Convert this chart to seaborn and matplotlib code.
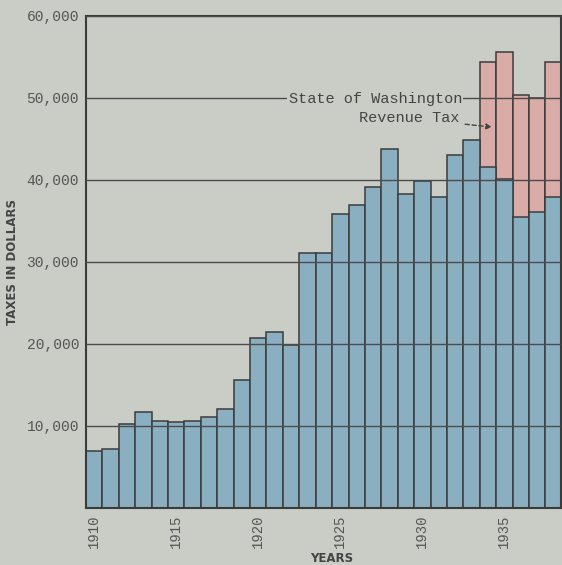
#!/usr/bin/env python3

import matplotlib
matplotlib.use("Agg")
import pandas as pd
import seaborn as sns
from matplotlib import pyplot as plt

years = list(range(1910, 1939))
local_tax = [6900, 7200, 10300, 11750, 10550, 10450, 10550, 11050, 12100, 15550,
             20700, 21500, 19900, 31050, 31150, 35850, 37000, 39100, 43800, 38300,
             39900, 37900, 43000, 44900, 41550, 40100, 35450, 36050, 37900]
state_tax_years = [1934, 1935, 1936, 1937, 1938]
state_tax = [12850, 15550, 14900, 14000, 16500]
tick_years = [1910, 1915, 1920, 1925, 1930, 1935]
y_ticks = [10000, 20000, 30000, 40000, 50000, 60000]
y_labels = ["10,000", "20,000", "30,000", "40,000", "50,000", "60,000"]

BG = "#c9cdc5"
BLUE = "#8aafc1"
RED = "#d9aca7"
INK = "#3a3c3c"
MONO = "Liberation Mono"


def main():
    data = pd.DataFrame({"year": years, "local": local_tax})
    state = pd.DataFrame({"year": state_tax_years, "state": state_tax})
    data = data.merge(state, on="year", how="left").fillna({"state": 0})
    data["total"] = data["local"] + data["state"]
    stacked = data[data["state"] > 0]

    sns.set_style("white")
    fig = plt.figure(figsize=(5.62, 5.65), dpi=100, facecolor=BG)
    ax = fig.add_axes([86 / 562, 1 - 508 / 565, 475 / 562, 492 / 565])
    ax.set_facecolor(BG)

    bar_kw = dict(order=years, width=1.0, edgecolor=INK, linewidth=1.1,
                  errorbar=None, saturation=1)
    sns.barplot(stacked, x="year", y="total", color=RED, ax=ax, **bar_kw)
    sns.barplot(data, x="year", y="local", color=BLUE, ax=ax, **bar_kw)

    ax.set_xlim(-0.5, 28.45)
    ax.set_ylim(0, 60000)
    ax.set_yticks(y_ticks, y_labels, family=MONO, fontsize=10.5, color="#555")
    ax.set_xticks([years.index(y) for y in tick_years], [str(y) for y in tick_years],
                  rotation=90, family=MONO, fontsize=10, color="#555")
    ax.tick_params(axis="both", length=3, width=1.2, color=INK, pad=2)
    ax.yaxis.grid(True, color="#4a4c4c", linewidth=1.0)
    ax.set_axisbelow(False)
    for s in ax.spines.values():
        s.set_visible(True)
        s.set_color(INK)
        s.set_linewidth(1.5)
    ax.set_xlabel("")
    ax.set_ylabel("")

    ax.text(22.42, 49900, "State of Washington", ha="right", va="center",
            family=MONO, fontsize=11, color="#444",
            bbox=dict(facecolor=BG, edgecolor="none", pad=1))
    ax.annotate("Revenue Tax", xy=(24.24, 46450), xytext=(22.24, 47550),
                ha="right", va="center", family=MONO, fontsize=11, color="#444",
                arrowprops=dict(arrowstyle="-|>", linestyle=(0, (3, 2)), color="#444",
                                lw=1, shrinkA=2, shrinkB=0, mutation_scale=8))

    fig.text(13 / 562, 1 - 262 / 565, "TAXES IN DOLLARS", rotation=90, ha="center", va="center",
             fontsize=8.5, fontweight="bold", color="#444")
    fig.text(332 / 562, 1 - 558 / 565, "YEARS", ha="center", va="center",
             fontsize=8.5, fontweight="bold", color="#444")

    fig.savefig("out.png", dpi=100, facecolor=BG)
    plt.close(fig)


if __name__ == '__main__':
    main()
